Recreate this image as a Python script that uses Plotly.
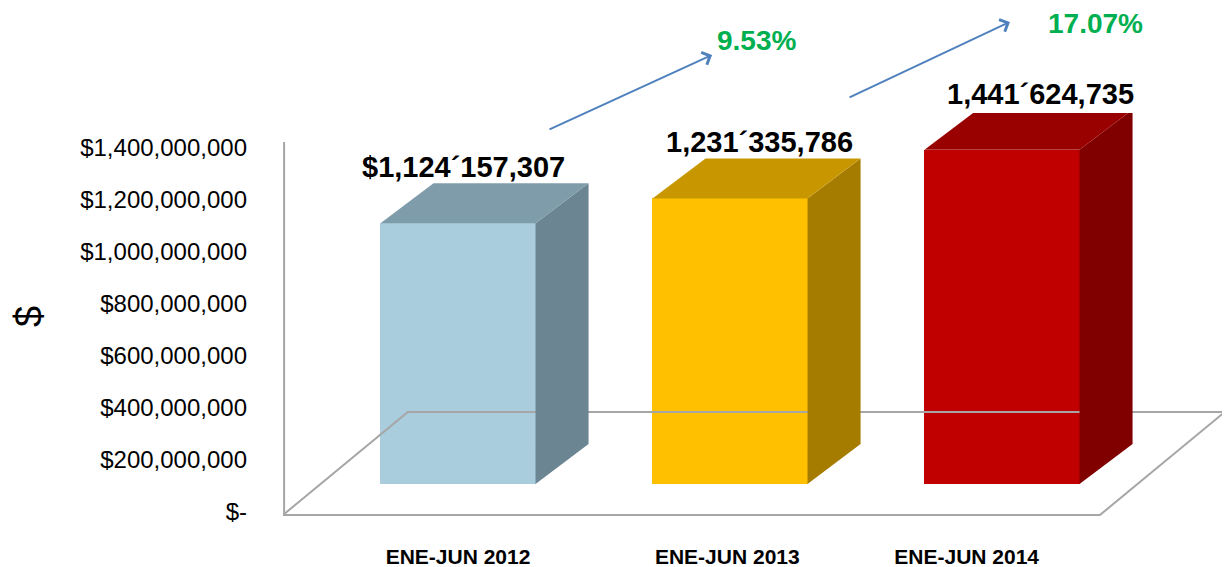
import plotly.graph_objects as go

# ---------------- data ----------------
categories = ["ENE-JUN 2012", "ENE-JUN 2013", "ENE-JUN 2014"]
values = [1124157307, 1231335786, 1441624735]
value_labels = ["$1,124´157,307", "1,231´335,786", "1,441´624,735"]
growth_labels = ["9.53%", "17.07%"]
y_tick_values = [0, 200e6, 400e6, 600e6, 800e6, 1000e6, 1200e6, 1400e6]
y_tick_labels = ["$-", "$200,000,000", "$400,000,000", "$600,000,000",
                 "$800,000,000", "$1,000,000,000", "$1,200,000,000", "$1,400,000,000"]

# ---------------- style ----------------
front_colors = ["#a9cddd", "#ffc000", "#c00000"]
side_colors = ["#6b8593", "#a67c00", "#800000"]
top_colors = ["#7f9caa", "#c89700", "#990000"]
label_shift = [0.02, 0.11, 0.14]     # data label x offsets (category units)
tick_shift = [0.0, -0.01, -0.13]     # category label x offsets
green = "#00b050"
arrow_blue = "#4f81bd"
floor_line = "#a6a6a6"
FONT = "Liberation Sans, Arial, sans-serif"

# figure geometry (page has an 8px body margin: figure offset by 8px)
W, H = 1222, 559
M = dict(l=275, r=8, t=105, b=47)
plot_w = W - M["l"] - M["r"]
plot_h = H - M["t"] - M["b"]

# pseudo-3D geometry (axis units)
bar_w = 0.57
front_scale = 0.892
base0 = 0.1077e9
depth_x = 0.195
depth_y = 0.1538e9

x_rng = [-0.6434, 2.8088]
y_rng = [-0.030769e9, 1.534615e9]


def xp(x):
    return (x - x_rng[0]) / (x_rng[1] - x_rng[0])


def yp(y):
    return (y - y_rng[0]) / (y_rng[1] - y_rng[0])


fig = go.Figure()

# floor parallelogram and wall edge
floor_front = -0.0115e9
floor_back = 0.3846e9
fx0, fx1 = x_rng[0], 2.360
fdx = 0.459
fig.add_trace(go.Scatter(
    x=[fx0, fx1, fx1 + fdx, fx0 + fdx, fx0],
    y=[floor_front, floor_front, floor_back, floor_back, floor_front],
    mode="lines", line=dict(color=floor_line, width=2),
    hoverinfo="skip", showlegend=False))
fig.add_trace(go.Scatter(
    x=[fx0 + 0.004, fx0 + 0.004], y=[floor_front, 1.423e9],
    mode="lines", line=dict(color=floor_line, width=2),
    hoverinfo="skip", showlegend=False))

# bars: front faces
heights = [v * front_scale for v in values]
xs = list(range(len(categories)))
fig.add_trace(go.Bar(
    x=xs, y=heights, base=base0, width=bar_w,
    marker=dict(color=front_colors, line=dict(width=0)),
    hoverinfo="skip", showlegend=False))

# side and top faces
for i, h in enumerate(heights):
    xl = i - bar_w / 2
    xr = i + bar_w / 2
    top = base0 + h
    fig.add_trace(go.Scatter(
        x=[xr, xr + depth_x, xr + depth_x, xr, xr],
        y=[base0, base0 + depth_y, top + depth_y, top, base0],
        mode="lines", fill="toself", fillcolor=side_colors[i],
        line=dict(width=0, color=side_colors[i]),
        hoverinfo="skip", showlegend=False))
    fig.add_trace(go.Scatter(
        x=[xl, xr, xr + depth_x, xl + depth_x, xl],
        y=[top, top, top + depth_y, top + depth_y, top],
        mode="lines", fill="toself", fillcolor=top_colors[i],
        line=dict(width=0, color=top_colors[i]),
        hoverinfo="skip", showlegend=False))

annotations = []
# value labels above each bar
for i, h in enumerate(heights):
    annotations.append(dict(
        x=xp(i + label_shift[i]), y=yp(base0 + h + depth_y), xref="paper", yref="paper",
        text="<b>%s</b>" % value_labels[i], showarrow=False,
        xanchor="center", yanchor="bottom", yshift=-2,
        font=dict(family=FONT, size=29, color="#000000")))

# growth arrows and percentages
arrows = [((0.331, 1.469e9), (0.934, 1.758e9)), ((1.434, 1.592e9), (2.029, 1.885e9))]
pct_pos = [(1.099, 1.815e9), (2.342, 1.877e9)]
for (tail, head), (px, py), txt in zip(arrows, pct_pos, growth_labels):
    ax_px = (xp(tail[0]) - xp(head[0])) * plot_w
    ay_px = -(yp(tail[1]) - yp(head[1])) * plot_h
    annotations.append(dict(
        x=xp(head[0]), y=yp(head[1]), ax=ax_px, ay=ay_px,
        xref="paper", yref="paper", axref="pixel", ayref="pixel",
        text="", showarrow=True, arrowhead=4,
        arrowsize=1.3, arrowwidth=2, arrowcolor=arrow_blue))
    annotations.append(dict(
        x=xp(px), y=yp(py), xref="paper", yref="paper", text="<b>%s</b>" % txt,
        xanchor="center", yanchor="middle",
        showarrow=False, font=dict(family=FONT, size=28, color=green)))

fig.update_layout(
    width=W, height=H,
    margin=M,
    plot_bgcolor="white", paper_bgcolor="white",
    bargap=0, showlegend=False,
    annotations=annotations,
    xaxis=dict(
        range=x_rng, tickmode="array", automargin=False,
        tickvals=[i + s for i, s in zip(xs, tick_shift)],
        ticktext=["<b>%s</b>" % c for c in categories],
        showgrid=False, zeroline=False, showline=False, ticks="",
        ticklabelstandoff=22,
        tickfont=dict(family="Liberation Sans Narrow, Arial Narrow, Liberation Sans, sans-serif",
                      size=21, color="#000000")),
    yaxis=dict(
        range=y_rng, tickmode="array", tickvals=y_tick_values, ticktext=y_tick_labels,
        automargin=False,
        showgrid=False, zeroline=False, showline=False, ticks="",
        ticklabelstandoff=35,
        tickfont=dict(family=FONT, size=24, color="#000000"),
        title=dict(text="$", font=dict(family=FONT, size=38, color="#000000"), standoff=40)),
)

fig.write_html("out.html")
